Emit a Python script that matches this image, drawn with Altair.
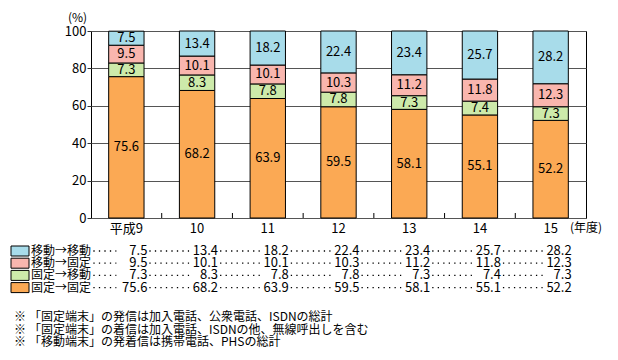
import altair as alt
import pandas as pd

# ---- data ----
years = ["平成9", "10", "11", "12", "13", "14", "15"]
series = ["固定→固定", "固定→移動", "移動→固定", "移動→移動"]  # bottom -> top
kotei_kotei = [75.6, 68.2, 63.9, 59.5, 58.1, 55.1, 52.2]
kotei_idou = [7.3, 8.3, 7.8, 7.8, 7.3, 7.4, 7.3]
idou_kotei = [9.5, 10.1, 10.1, 10.3, 11.2, 11.8, 12.3]
idou_idou = [7.5, 13.4, 18.2, 22.4, 23.4, 25.7, 28.2]
colors = ["#FBA954", "#CDEAAA", "#F9B6AE", "#A8DCEA"]
y_ticks = [0, 20, 40, 60, 80, 100]
notes = [
    "「固定端末」の発信は加入電話、公衆電話、ISDNの総計",
    "「固定端末」の着信は加入電話、ISDNの他、無線呼出しを含む",
    "「移動端末」の発着信は携帯電話、PHSの総計",
]

W, H = 495, 187
FONT = "Noto Sans CJK JP"
FS = 12     # Japanese text
FN = 13     # numbers

rows = []
for k, (name, vals) in enumerate(zip(series, [kotei_kotei, kotei_idou, idou_kotei, idou_idou])):
    for i, (yr, v) in enumerate(zip(years, vals)):
        rows.append({"year": yr, "series": name, "order": k, "value": v,
                     "label": f"{v:.1f}", "col": i})
df = pd.DataFrame(rows)

xscale = alt.Scale(domain=years, paddingInner=0.5, paddingOuter=0.25)
xaxis = alt.Axis(title=None, labelAngle=0, ticks=False, domain=False, labelPadding=4,
                 labelFont=FONT, labelFontSize=FN, labelColor="black")
yscale = alt.Scale(domain=[0, 100], nice=False)
yaxis = alt.Axis(title="(%)", titleAngle=0, titleX=-14, titleY=-14, titleAlign="center",
                 titleBaseline="middle", titleFont=FONT, titleFontSize=FS,
                 titleFontWeight="normal", titleColor="black",
                 values=y_ticks, tickSize=4, tickColor="#333", labelPadding=1,
                 labelFont=FONT, labelFontSize=FN, labelColor="black",
                 domain=False, grid=True, gridColor="#555", gridWidth=1)


def X(**kw):
    return alt.X("year:N", sort=years, scale=xscale, axis=xaxis, **kw)


base = alt.Chart(df).transform_stack(
    stack="value", as_=["y0", "y1"], groupby=["year"],
    sort=[alt.SortField("order", order="ascending")]
)

bars = base.mark_bar(stroke="black", strokeWidth=1).encode(
    x=X(),
    y=alt.Y("y0:Q", scale=yscale, axis=yaxis),
    y2="y1:Q",
    color=alt.Color("series:N", scale=alt.Scale(domain=series, range=colors), legend=None),
)

seg_labels = base.transform_calculate(mid="(datum.y0 + datum.y1) / 2").mark_text(
    font=FONT, fontSize=FN, color="black", baseline="middle"
).encode(x=X(), y=alt.Y("mid:Q", scale=yscale, axis=yaxis), text="label:N")

# inward ticks between categories on the bottom axis
tick_df = pd.DataFrame({"year": years[1:]})
step = W / len(years)
cat_ticks = alt.Chart(tick_df).mark_rule(color="black", xOffset=-step * 0.25).encode(
    x=X(bandPosition=0), y=alt.value(H), y2=alt.value(H - 5)
)

one = pd.DataFrame({"a": [0]})
layers = [bars, seg_labels, cat_ticks]

layers.append(alt.Chart(one).mark_text(font=FONT, fontSize=FS, color="black",
                                       align="left", baseline="middle").encode(
    x=alt.value(479), y=alt.value(H + 10), text=alt.value("(年度)")))

# ---- data table with legend ----
row_y0 = 220
row_dy = 12.2
for r, k in enumerate([3, 2, 1, 0]):
    name = series[k]
    ry = row_y0 + r * row_dy
    sub = df[df["series"] == name]
    layers.append(alt.Chart(one).mark_rect(fill=colors[k], stroke="black", strokeWidth=1).encode(
        x=alt.value(-80), x2=alt.value(-62), y=alt.value(ry - 5), y2=alt.value(ry + 5)))
    layers.append(alt.Chart(one).mark_text(font=FONT, fontSize=FS, color="black",
                                           align="left", baseline="middle").encode(
        x=alt.value(-60), y=alt.value(ry), text=alt.value(name)))
    layers.append(alt.Chart(sub).mark_text(font=FONT, fontSize=FN, color="black",
                                           align="right", baseline="middle", dx=21).encode(
        x=X(), y=alt.value(ry), text="label:N"))
    # leader dots
    layers.append(alt.Chart(sub[sub["col"] == 0]).mark_rule(
        color="black", strokeWidth=1.3, strokeDash=[1.3, 4.2],
        xOffset=-33, x2Offset=-10).encode(
        x=X(bandPosition=0.5), x2=alt.X2("year:N", bandPosition=0.5), y=alt.value(ry)))
    layers.append(alt.Chart(sub[sub["col"] > 0]).mark_rule(
        color="black", strokeWidth=1.3, strokeDash=[1.3, 4.2],
        xOffset=-step + 23, x2Offset=-8).encode(
        x=X(bandPosition=0.5), x2=alt.X2("year:N", bandPosition=0.5), y=alt.value(ry)))

# ---- footnotes ----
for j, note in enumerate(notes):
    ny = 286 + j * 12.5
    layers.append(alt.Chart(one).mark_text(font=FONT, fontSize=FS, color="black",
                                           align="center", baseline="middle").encode(
        x=alt.value(-71), y=alt.value(ny), text=alt.value("※")))
    layers.append(alt.Chart(one).mark_text(font=FONT, fontSize=FS, color="black",
                                           align="left", baseline="middle").encode(
        x=alt.value(-62), y=alt.value(ny), text=alt.value(note)))

chart = alt.layer(*layers).properties(
    width=W, height=H,
    autosize=alt.AutoSizeParams(type="none"),
    padding={"left": 83, "top": 23, "right": 24, "bottom": 134},
).configure_view(stroke="black", strokeWidth=1)

chart.save("out.html", embed_options={"renderer": "svg", "actions": False})
